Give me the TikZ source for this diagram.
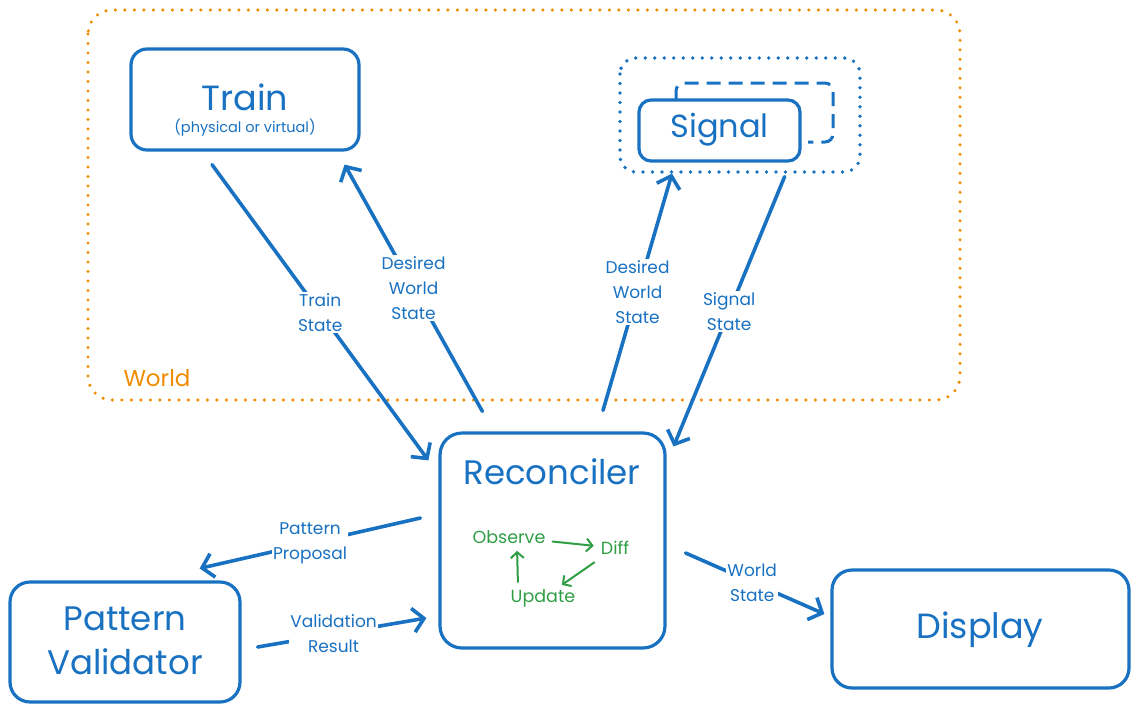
\documentclass[tikz,border=0pt]{standalone}
\usepackage{fontspec}
\setmainfont{Poppins}
\usetikzlibrary{arrows.meta}
\definecolor{bleu}{HTML}{1971C2}
\definecolor{vert}{HTML}{2F9E44}
\definecolor{ambre}{HTML}{F08C00}
\begin{document}
\begin{tikzpicture}[x=1pt,y=-1pt]
\tikzset{bloc/.style={draw=bleu, line width=3.2pt, rounded corners=16pt, fill=white},
titre/.style={text=bleu, font=\fontsize{32}{44}\selectfont, align=center},
etiq/.style={fill=white, text=bleu, font=\fontsize{17}{25}\selectfont, align=center, inner sep=1pt},
fleche/.style={draw=bleu, line width=3.6pt, line cap=round, -{Straight Barb[length=11pt, width=24pt]}},
petit/.style={text=vert, font=\fontsize{17.5}{20}\selectfont, inner sep=3pt},
vfleche/.style={draw=vert, line width=2pt, line cap=round, shorten <=4pt, shorten >=4pt, -{Straight Barb[length=6pt, width=13pt]}},
pointille/.style={line width=3.8pt, line cap=round, dash pattern=on 0pt off 9.5pt}}
\useasboundingbox (0,0) rectangle (1139,712);
% le monde
\draw[pointille, ambre, line width=3.4pt, rounded corners=24pt] (88,10) rectangle (960,400);
\node[text=ambre, font=\fontsize{23}{26}\selectfont] (monde) at (157,378) {World};
% train
\node[bloc, minimum width=228pt, minimum height=101pt] (train) at (245,99.5) {};
\node[titre, font=\fontsize{35}{40}\selectfont] (traintxt) at (245,97) {Train};
\node[text=bleu, font=\fontsize{14.5}{16}\selectfont] (trainsous) at (245,128) {(physical or virtual)};
% signal
\draw[pointille, bleu, rounded corners=16pt] (620,58) rectangle (860,172);
\draw[bleu, line width=3pt, dash pattern=on 14pt off 8pt, rounded corners=8pt] (676,100) -- (676,83) -- (833,83) -- (833,142) -- (808,142);
\node[bloc, minimum width=161pt, minimum height=61pt, rounded corners=12pt] (signal) at (719.5,130.5) {};
\node[titre] (signaltxt) at (719.5,130) {Signal};
% reconciler
\node[bloc, minimum width=225pt, minimum height=215pt, rounded corners=22pt] (rec) at (552.5,540.5) {};
\node[titre, font=\fontsize{34}{40}\selectfont] (rectxt) at (552,472) {Reconciler};
\node[petit] (obs) at (509,537) {Observe};
\node[petit] (diff) at (615,548) {Diff};
\node[petit] (maj) at (543,598) {Update};
\draw[vfleche] (obs) -- (diff);
\draw[vfleche, shorten <=8pt, shorten >=2pt] (diff) -- (maj);
\draw[vfleche] ([xshift=-25pt]maj.north) -- ([xshift=8pt]obs.south);
% validateur et affichage
\node[bloc, minimum width=230pt, minimum height=120pt, rounded corners=20pt] (valid) at (125,642) {};
\node[titre, font=\fontsize{34}{44}\selectfont] (validtxt) at (125,641) {Pattern\\Validator};
\node[bloc, minimum width=297pt, minimum height=118pt, rounded corners=20pt] (affiche) at (980.5,629) {};
\node[titre, font=\fontsize{35}{40}\selectfont] (affichetxt) at (980,630) {Display};
% les fleches
\draw[fleche] ([shift={(-33,13)}]train.south) -- node[etiq] {Train\\State} ([shift={(-10,29)}]rec.north west);
\draw[fleche] ([shift={(44,-20)}]rec.north west) -- node[etiq] {Desired\\World\\State} ([shift={(-16,13)}]train.south east);
\draw[fleche] ([shift={(50.5,-21)}]rec.north) -- node[etiq] {Desired\\World\\State} ([shift={(-47.5,11)}]signal.south);
\draw[fleche] ([shift={(-17,14)}]signal.south east) -- node[etiq] {Signal\\State} ([shift={(7,15)}]rec.north east);
\draw[fleche] ([shift={(-18,-22.5)}]rec.west) -- node[etiq] {Pattern\\Proposal} ([shift={(-42,-12)}]valid.north east);
\draw[fleche] ([shift={(16,5)}]valid.east) -- node[etiq, pos=0.45] {Validation\\Result} ([shift={(-12,77.5)}]rec.west);
\draw[fleche] ([shift={(19,12.5)}]rec.east) -- node[etiq, pos=0.48] {World\\State} ([shift={(-6,-15)}]affiche.west);
\end{tikzpicture}
\end{document}
